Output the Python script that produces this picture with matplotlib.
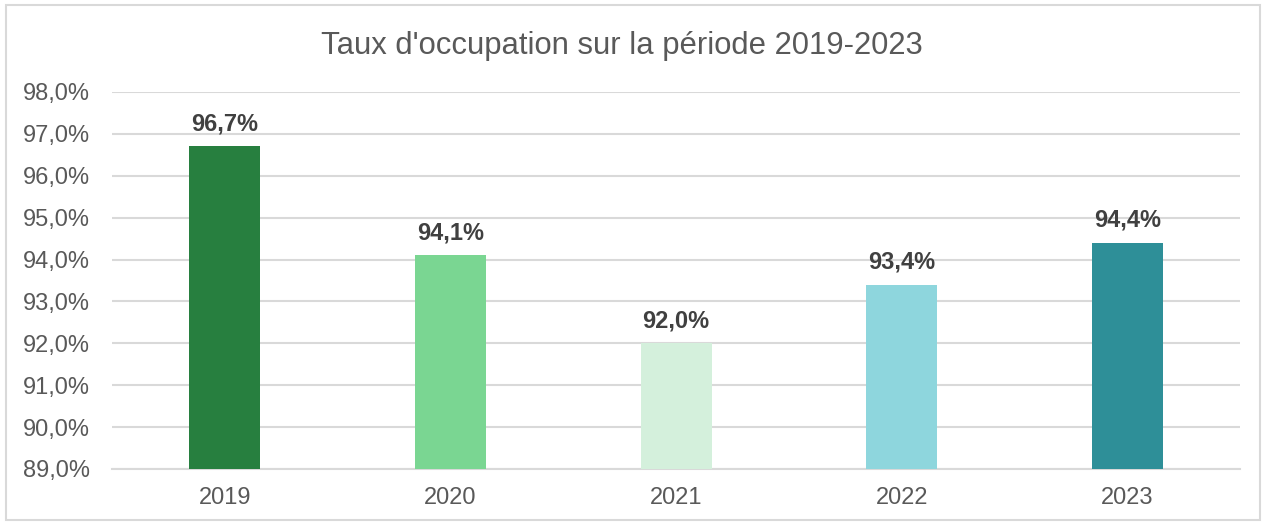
import matplotlib.pyplot as plt
from matplotlib.patches import Rectangle

# donnees
annees = ['2019', '2020', '2021', '2022', '2023']
taux = [96.7, 94.1, 92.0, 93.4, 94.4]
couleurs = ['#277F3F', '#7AD692', '#D4F0DC', '#8ED6DD', '#2E8F98']
yticks = [89, 90, 91, 92, 93, 94, 95, 96, 97, 98]

plt.rcParams['font.family'] = ['Liberation Sans', 'DejaVu Sans']

fig = plt.figure(figsize=(12.66, 5.25), dpi=100)
ax = fig.add_axes([0.0885, 0.1067, 0.891, 0.7181])

x = range(len(annees))
ax.bar(x, [t - 89 for t in taux], bottom=89, width=0.315, color=couleurs, zorder=3)

for i, t in enumerate(taux):
    ax.annotate(f'{t:.1f}%'.replace('.', ','), (i, t), xytext=(0, 8),
                textcoords='offset points', ha='center', va='bottom',
                fontsize=17, fontweight='bold', color='#404040')

ax.set_xlim(-0.5, 4.5)
ax.set_ylim(89, 98)
ax.set_yticks(yticks)
ax.set_yticklabels([f'{v:.1f}%'.replace('.', ',') for v in yticks])
ax.set_xticks(list(x))
ax.set_xticklabels(annees)
ax.tick_params(axis='both', length=0, labelsize=17, labelcolor='#595959')
ax.tick_params(axis='y', pad=16)
ax.tick_params(axis='x', pad=13)
ax.grid(axis='y', color='#D9D9D9', linewidth=1.5, zorder=0)
for s in ['top', 'right', 'left']:
    ax.spines[s].set_visible(False)
ax.spines['bottom'].set_color('#D9D9D9')
ax.spines['bottom'].set_linewidth(1.5)

fig.text(0.4915, 0.913, "Taux d'occupation sur la période 2019-2023", ha='center',
         va='center', fontsize=22.3, color='#595959')

fig.patches.append(Rectangle((0.005, 0.01), 0.99, 0.98, transform=fig.transFigure,
                             fill=False, edgecolor='#D9D9D9', linewidth=1.5))

fig.savefig('out.png', dpi=100)
